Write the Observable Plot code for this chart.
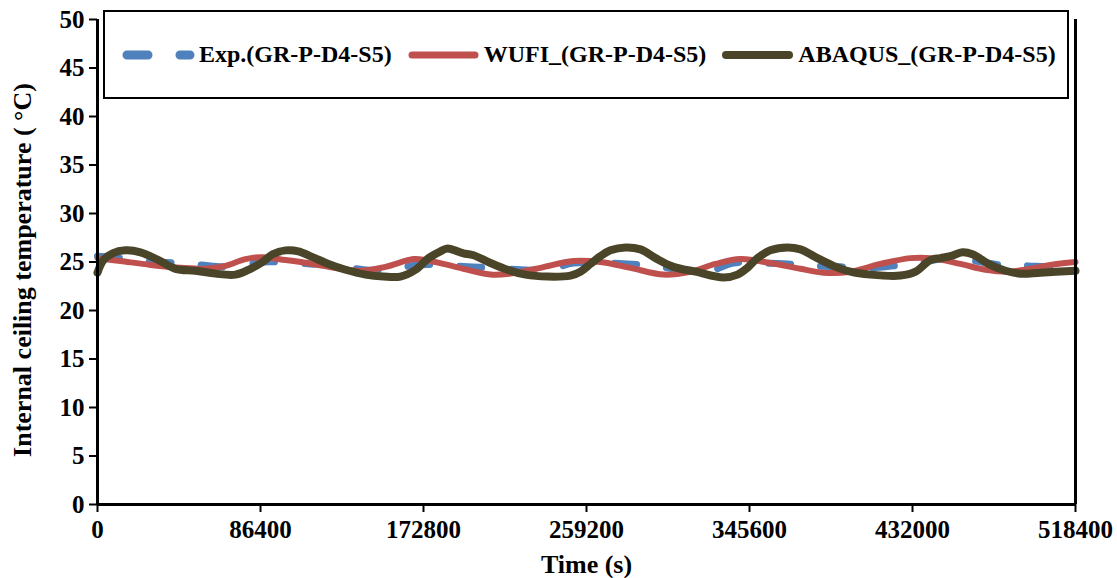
<!DOCTYPE html>
<html>
<head>
<meta charset="utf-8">
<script src="https://cdn.jsdelivr.net/npm/d3@7"></script>
<script src="https://cdn.jsdelivr.net/npm/@observablehq/plot@0.6"></script>
<style>
  html, body { margin: 0; padding: 0; background: #fff; }
  #wrap { position: relative; width: 1117px; height: 578px; font-family: "Liberation Serif", "Times New Roman", serif; font-weight: bold; }
  #legend { position: absolute; left: 103px; top: 10px; width: 945px; height: 85px; border: 2px solid #000; background: #fff;
            display: flex; align-items: center; padding-left: 17px; box-sizing: content-box; }
  .item { display: flex; align-items: center; margin-right: 15px; }
  .item svg { margin-right: 4px; }
  .item span { font-size: 24px; color: #000; white-space: nowrap; }
</style>
</head>
<body>
<div id="wrap"></div>
<script>
// ---- data (time in s, temperature in °C) ----
const seriesNames = ["Exp.(GR-P-D4-S5)", "WUFI_(GR-P-D4-S5)", "ABAQUS_(GR-P-D4-S5)"];
const seriesColors = ["#4F81BD", "#C0504D", "#4A4528"];

const timeExp = [0, 6900, 17500, 30700, 41300, 54600, 66300, 78400, 87500, 97000, 112900, 126200, 141000, 154200,
  169600, 181800, 196100, 209900, 224200, 238500, 252300, 266600, 280900, 294700, 309000, 323300, 337100, 351400,
  365700, 379500, 393800, 409700, 421900, 436200, 446800, 461200, 478600, 493000, 506700, 518400];
const tempExp = [25.6, 25.5, 25.3, 25.0, 24.9, 24.7, 24.5, 24.7, 25.0, 25.0, 24.8, 24.7, 24.2, 24.2,
  24.7, 24.7, 24.5, 24.4, 24.2, 24.2, 24.9, 24.9, 24.8, 24.6, 24.2, 24.0, 24.9, 24.9,
  24.8, 24.6, 24.5, 24.4, 24.6, 24.9, 25.3, 25.2, 24.7, 24.6, 24.5, 24.6];

const timeWufi = [0, 12200, 28100, 44000, 57200, 67800, 78400, 87500, 99700, 114000, 128800, 139400, 152700,
  167500, 173900, 189800, 208300, 218900, 234800, 252300, 266600, 282500, 300000, 314300, 327600, 340800,
  356700, 372600, 384800, 399100, 415000, 430900, 441500, 457400, 470700, 482400, 494500, 505100, 518400];
const tempWufi = [25.4, 25.1, 24.7, 24.4, 24.3, 24.6, 25.3, 25.5, 25.2, 24.8, 24.3, 24.1, 24.5,
  25.3, 25.2, 24.5, 23.7, 23.8, 24.4, 25.1, 25.0, 24.4, 23.7, 24.0, 24.8, 25.3,
  24.9, 24.3, 23.9, 24.0, 24.8, 25.4, 25.4, 24.8, 24.2, 24.0, 24.3, 24.7, 25.0];

const timeAbaqus = [0, 3200, 8000, 14800, 22800, 32300, 41300, 51900, 62500, 73100, 81100, 87500, 92800, 99700,
  106500, 114000, 122400, 131500, 142100, 151600, 160600, 168600, 175500, 181800, 185500, 190800, 194000, 199300,
  208300, 217300, 226900, 238500, 250700, 256000, 261300, 266600, 271900, 279900, 287800, 295800, 305300, 317000,
  331800, 339200, 344500, 349800, 356700, 365700, 372600, 380600, 390100, 399100, 409700, 425600, 433600, 441500,
  446800, 452100, 458500, 463800, 473300, 481300, 489200, 499800, 518400];
const tempAbaqus = [23.9, 25.2, 25.9, 26.2, 26.0, 25.2, 24.3, 24.1, 23.8, 23.7, 24.3, 25.0, 25.8, 26.2,
  26.1, 25.5, 24.8, 24.2, 23.7, 23.5, 23.5, 24.2, 25.4, 26.1, 26.4, 26.1, 25.9, 25.7,
  24.9, 24.2, 23.7, 23.5, 23.6, 24.0, 24.8, 25.6, 26.2, 26.5, 26.3, 25.4, 24.5, 24.0,
  23.4, 23.7, 24.4, 25.4, 26.2, 26.5, 26.3, 25.5, 24.6, 24.0, 23.7, 23.6, 24.0, 25.2,
  25.4, 25.6, 26.0, 25.8, 24.7, 24.1, 23.8, 23.9, 24.1];

const xTicks = [0, 86400, 172800, 259200, 345600, 432000, 518400];
const yTicks = [0, 5, 10, 15, 20, 25, 30, 35, 40, 45, 50];
const xLabel = "Time (s)";
const yLabel = "Internal ceiling temperature ( °C)";

const font = "'Liberation Serif', 'Times New Roman', serif";

const chart = Plot.plot({
  width: 1117,
  height: 578,
  marginLeft: 97,
  marginRight: 42,
  marginTop: 19,
  marginBottom: 74,
  style: { fontFamily: font, fontWeight: "bold", color: "#000", background: "#fff", overflow: "visible" },
  x: { domain: [0, 518400] },
  y: { domain: [0, 50] },
  marks: [
    Plot.axisY({ ticks: yTicks, tickSize: 8, tickPadding: 5, fontSize: 25, label: null, strokeWidth: 2 }),
    Plot.axisX({ ticks: xTicks, tickSize: 8, tickPadding: 8, fontSize: 25, label: null, tickFormat: d3.format("d"), strokeWidth: 2 }),
    Plot.line(timeExp, { x: timeExp, y: tempExp, stroke: seriesColors[0], strokeWidth: 7, curve: "catmull-rom",
      strokeDasharray: "22,30", strokeLinecap: "round" }),
    Plot.line(timeWufi, { x: timeWufi, y: tempWufi, stroke: seriesColors[1], strokeWidth: 6, curve: "catmull-rom" }),
    Plot.line(timeAbaqus, { x: timeAbaqus, y: tempAbaqus, stroke: seriesColors[2], strokeWidth: 8, curve: "catmull-rom" }),
    Plot.ruleX([0], { stroke: "#000", strokeWidth: 3 }),
    Plot.ruleX([518400], { stroke: "#000", strokeWidth: 3 }),
    Plot.ruleY([0], { stroke: "#000", strokeWidth: 3 }),
    Plot.text([xLabel], { frameAnchor: "bottom", dy: 68, fontSize: 26, fontWeight: "bold", fill: "#000" }),
    Plot.text([yLabel], { frameAnchor: "left", textAnchor: "middle", dx: -75, dy: 8, rotate: -90, fontSize: 26, fontWeight: "bold", fill: "#000" })
  ]
});

const wrap = document.getElementById("wrap");
wrap.appendChild(chart);

// legend (HTML overlay)
const legend = document.createElement("div");
legend.id = "legend";
const swatchStyles = [
  { width: 9, dash: "30,23", cap: "round" },
  { width: 7, dash: null, cap: "round" },
  { width: 8, dash: null, cap: "round" }
];
seriesNames.forEach((name, i) => {
  const item = document.createElement("div");
  item.className = "item";
  const s = swatchStyles[i];
  const dashAttr = s.dash ? `stroke-dasharray="${s.dash.split(",").map((v, k) => k === 0 ? +v - s.width : +v + s.width).join(",")}"` : "";
  item.innerHTML = `<svg width="73" height="14"><line x1="5" y1="7" x2="68" y2="7" stroke="${seriesColors[i]}" stroke-width="${s.width}" stroke-linecap="${s.cap}" ${dashAttr}/></svg><span>${name}</span>`;
  legend.appendChild(item);
});
wrap.appendChild(legend);
</script>
</body>
</html>
